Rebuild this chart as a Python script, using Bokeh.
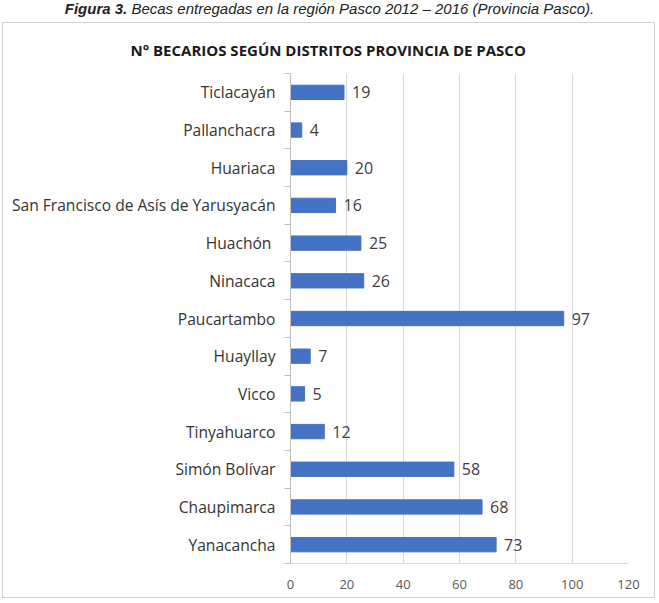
from bokeh.plotting import figure
from bokeh.models import (ColumnDataSource, Range1d, LinearAxis, FixedTicker, LabelSet, Div)
from bokeh.core.properties import value
from bokeh.layouts import column
from bokeh.embed import file_html
from bokeh.resources import INLINE

# ---- data (top to bottom as in the chart) ----
districts = ["Ticlacayán", "Pallanchacra", "Huariaca", "San Francisco de Asís de Yarusyacán",
             "Huachón ", "Ninacaca", "Paucartambo", "Huayllay", "Vicco", "Tinyahuarco",
             "Simón Bolívar", "Chaupimarca", "Yanacancha"]
becarios = [19, 4, 20, 16, 25, 26, 97, 7, 5, 12, 58, 68, 73]
x_ticks = [0, 20, 40, 60, 80, 100, 120]

title_text = "N° BECARIOS SEGÚN DISTRITOS PROVINCIA DE PASCO"
caption_html = ("<b>Figura 3.</b> Becas entregadas en la región Pasco 2012 – 2016 "
                "(Provincia Pasco).")

n = len(districts)
pos = [n - 0.5 - i for i in range(n)]          # category slot centres (top -> bottom)
source = ColumnDataSource(dict(district=districts, value=becarios, y=pos,
                               label=[str(v) for v in becarios]))

p = figure(width=653, height=576, output_backend="svg", toolbar_location=None,
           y_range=Range1d(0, n), x_range=Range1d(0, 120),
           y_axis_location=None, x_axis_location="below",
           min_border_left=287, min_border_right=28, min_border_top=50, min_border_bottom=36)
p.outline_line_color = None
p.background_fill_color = "white"
p.border_fill_color = "white"

# title (shifted so that it is centred on the whole chart box)
p.title.text = title_text
p.title.align = "left"
p.title.offset = -160
p.title.standoff = 28
p.title.text_font = "Open Sans"
p.title.text_font_style = "bold"
p.title.text_font_size = "15px"
p.title.text_color = "#1a1a1a"

# bars
p.hbar(y="y", right="value", left=0, height=0.38, source=source,
       fill_color="#4472C4", line_color="#4472C4")

labels = LabelSet(x="value", y="y", text="label", source=source,
                  x_offset=8, text_baseline="middle", text_align="left",
                  text_font=value("Open Sans"),
                  text_font_size="16px", text_color="#404040")
p.add_layout(labels)

# x axis
p.xaxis.ticker = FixedTicker(ticks=x_ticks)
p.xaxis.major_tick_line_color = None
p.xaxis.minor_tick_line_color = None
p.xaxis.axis_line_color = "#d9d9d9"
p.xaxis.major_label_text_font = "Open Sans"
p.xaxis.major_label_text_font_size = "13px"
p.xaxis.major_label_text_color = "#595959"
p.xaxis.major_label_standoff = 10

p.xgrid.ticker = FixedTicker(ticks=x_ticks)
p.xgrid.grid_line_color = "#d9d9d9"
for g in p.ygrid:
    g.visible = False

# boundary ticks axis (ticks between categories, no labels)
bounds = list(range(n + 1))
idx_axis = LinearAxis(ticker=FixedTicker(ticks=bounds),
                      major_label_overrides={b: "" for b in bounds},
                      major_label_text_font_size="1px", major_label_standoff=0,
                      major_tick_out=6, major_tick_in=0, minor_tick_line_color=None,
                      axis_line_color="#bfbfbf", major_tick_line_color="#bfbfbf")
# category label axis (labels at slot centres, no ticks/line)
name_axis = LinearAxis(ticker=FixedTicker(ticks=pos),
                       major_label_overrides={y: d for y, d in zip(pos, districts)},
                       axis_line_color=None, major_tick_line_color=None,
                       minor_tick_line_color=None,
                       major_tick_out=0, major_tick_in=0, major_label_standoff=9,
                       major_label_text_font="Open Sans",
                       major_label_text_font_size="15.6px",
                       major_label_text_color="#333333")
p.add_layout(idx_axis, "left")
p.add_layout(name_axis, "left")

p.styles = {"border": "1px solid #d0d0d0"}
p.margin = (0, 0, 0, 2)

cap = Div(text=('<div style="position:relative; top:1px; margin:0; width:659px; '
                'text-align:center; '
                'font-family:\'Liberation Sans\', Arial, sans-serif; font-style:italic; '
                'font-size:15px; line-height:16px; color:#222;">' + caption_html + '</div>'),
          width=659, height=22, margin=(0, 0, 0, 0))

layout = column(cap, p, spacing=0, margin=(0, 0, 0, 0))
open("out.html", "w").write(file_html(layout, INLINE))
